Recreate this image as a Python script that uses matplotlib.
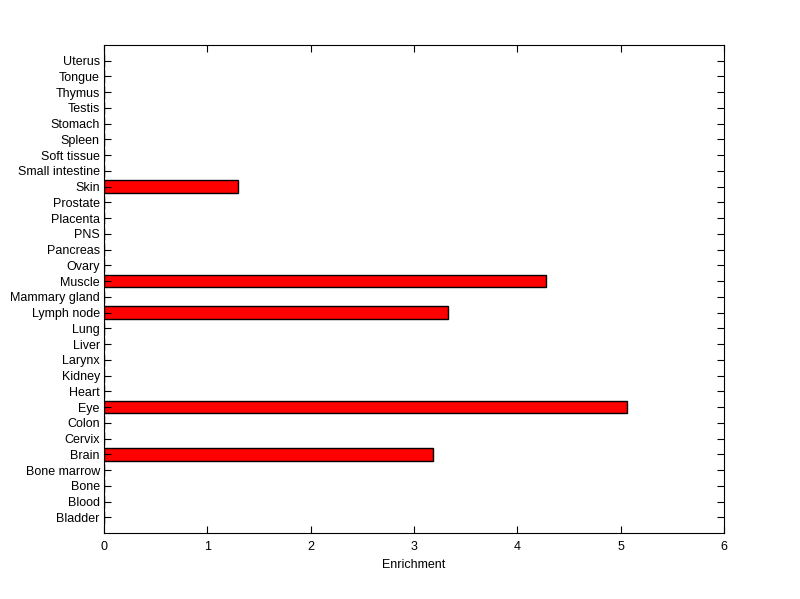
import matplotlib
matplotlib.use("Agg")
import matplotlib.pyplot as plt

tissues = ["Bladder", "Blood", "Bone", "Bone marrow", "Brain", "Cervix", "Colon", "Eye",
           "Heart", "Kidney", "Larynx", "Liver", "Lung", "Lymph node", "Mammary gland",
           "Muscle", "Ovary", "Pancreas", "PNS", "Placenta", "Prostate", "Skin",
           "Small intestine", "Soft tissue", "Spleen", "Stomach", "Testis", "Thymus",
           "Tongue", "Uterus"]
enrichment = [0, 0, 0, 0, 3.18, 0, 0, 5.06,
              0, 0, 0, 0, 0, 3.33, 0,
              4.28, 0, 0, 0, 0, 0, 1.30,
              0, 0, 0, 0, 0, 0,
              0, 0]
xticks = [0, 1, 2, 3, 4, 5, 6]

plt.rcParams['font.family'] = ['Liberation Sans', 'DejaVu Sans']
fig = plt.figure(figsize=(8, 5.99), dpi=100)
ax = fig.add_axes([0.13, 0.1102, 0.775, 0.8147])
pos = list(range(1, len(tissues) + 1))
ax.barh(pos, enrichment, height=0.8, color='#ff0000', edgecolor='black', linewidth=1.0)
ax.set_ylim(0, len(tissues) + 1)
ax.set_xlim(0, 6)
ax.set_yticks(pos)
ax.set_yticklabels(tissues, fontsize=9)
ax.set_xticks(xticks)
ax.set_xticklabels([str(t) for t in xticks], fontsize=9)
ax.set_xlabel("Enrichment", fontsize=9, labelpad=4)
ax.tick_params(direction='in', length=5, width=0.8, top=True, right=True)
ax.tick_params(axis='x', pad=6)
ax.tick_params(axis='y', pad=3)
for s in ax.spines.values():
    s.set_linewidth(0.8)
fig.savefig("out.png", dpi=100)
